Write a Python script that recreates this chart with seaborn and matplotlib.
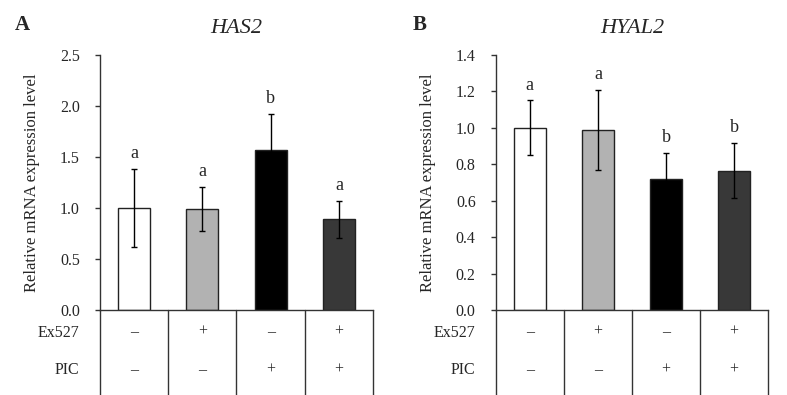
import pandas as pd
import seaborn as sns
import matplotlib.pyplot as plt
import matplotlib.transforms as mtransforms

# Data
groups = ["G1", "G2", "G3", "G4"]
ex527 = ["\u2013", "+", "\u2013", "+"]
pic = ["\u2013", "\u2013", "+", "+"]
colors = ["#ffffff", "#b2b2b2", "#000000", "#383838"]

has2_mean = [1.00, 0.99, 1.57, 0.89]
has2_err = [0.385, 0.22, 0.35, 0.18]
has2_sig = ["a", "a", "b", "a"]

hyal2_mean = [1.00, 0.99, 0.72, 0.765]
hyal2_err = [0.15, 0.22, 0.143, 0.15]
hyal2_sig = ["a", "a", "b", "b"]

sns.set_style("white")
plt.rcParams['font.family'] = ['Liberation Serif', 'DejaVu Serif']

fig = plt.figure(figsize=(7.87, 3.95), dpi=100)
ax1 = fig.add_axes([0.127, 0.215, 0.347, 0.646])
ax2 = fig.add_axes([0.630, 0.215, 0.346, 0.646])


def draw_panel(ax, means, errs, sig, ymax, step, title, letter, letter_x):
    df = pd.DataFrame({"group": groups, "value": means})
    sns.barplot(data=df, x="group", y="value", hue="group", palette=colors,
                edgecolor="#222222", linewidth=1.0, width=0.47, legend=False,
                errorbar=None, ax=ax)
    xs = range(len(groups))
    ax.errorbar(xs, means, yerr=errs, fmt="none", ecolor="black",
                elinewidth=1.0, capsize=2.5, capthick=1.0)
    for x, m, e, s in zip(xs, means, errs, sig):
        ax.annotate(s, (x, m + e), xytext=(0, 5), textcoords="offset points",
                    ha="center", va="bottom", fontsize=13)
    ax.set_xlim(-0.5, len(groups) - 0.5)
    ax.set_ylim(0, ymax)
    ticks = [round(i * step, 2) for i in range(int(round(ymax / step)) + 1)]
    ax.set_yticks(ticks)
    ax.set_yticklabels([f"{t:.1f}" for t in ticks], fontsize=11.5)
    ax.set_xticks([])
    ax.set_xlabel("")
    ax.set_ylabel("Relative mRNA expression level", fontsize=12, labelpad=14)
    for side in ["top", "right"]:
        ax.spines[side].set_visible(False)
    for side in ["left", "bottom"]:
        ax.spines[side].set_color("#333333")
        ax.spines[side].set_linewidth(1.0)
    ax.tick_params(axis="y", which="both", left=True, length=3.5, width=1,
                   color="#333333", pad=11)
    ax.set_title(title, fontsize=16, style="italic", pad=16)
    fig.text(letter_x, 0.937, letter, fontsize=15, fontweight="bold",
             ha="left", va="center")

    # treatment table below the axis
    trans = mtransforms.blended_transform_factory(ax.transData, ax.transAxes)
    for b in [i - 0.5 for i in range(len(groups) + 1)]:
        ax.plot([b, b], [0, -0.34], transform=trans, color="#333333",
                lw=1.0, clip_on=False)
    for x, e, p in zip(xs, ex527, pic):
        ax.text(x, -0.085, e, transform=trans, ha="center", va="center", fontsize=11.5)
        ax.text(x, -0.235, p, transform=trans, ha="center", va="center", fontsize=11.5)
    ax.text(-0.075, -0.09, "Ex527", transform=ax.transAxes, ha="right",
            va="center", fontsize=11.5)
    ax.text(-0.075, -0.235, "PIC", transform=ax.transAxes, ha="right",
            va="center", fontsize=11.5)


draw_panel(ax1, has2_mean, has2_err, has2_sig, 2.5, 0.5, "HAS2", "A", 0.019)
draw_panel(ax2, hyal2_mean, hyal2_err, hyal2_sig, 1.4, 0.2, "HYAL2", "B", 0.524)

fig.savefig("out.png", dpi=100)
